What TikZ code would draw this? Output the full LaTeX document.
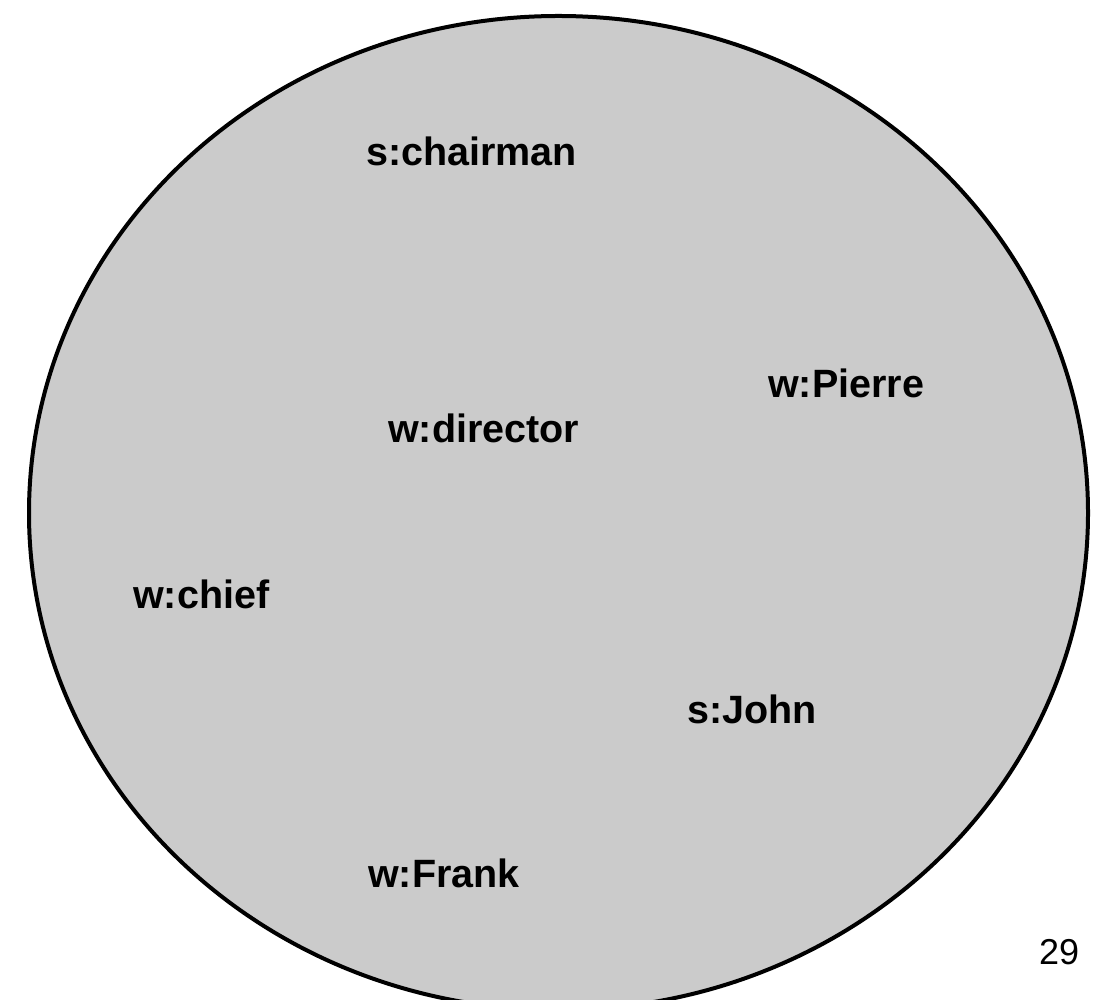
\documentclass[tikz,border=0pt]{standalone}
\usepackage{fontspec}
\setmainfont{Liberation Sans}
\definecolor{discgray}{HTML}{CBCBCB}
\begin{document}
\begin{tikzpicture}[x=1pt,y=1pt,
  lbl/.style={anchor=base west,inner sep=0pt,font=\fontsize{39.5}{47}\selectfont\bfseries},
  pagenum/.style={anchor=base west,inner sep=0pt,font=\fontsize{36}{43}\selectfont}]
\useasboundingbox (0,0) rectangle (1105,999);
\draw[line width=4pt,fill=discgray] (558.5,486) ellipse [x radius=529.5, y radius=497];
\node[lbl] (chairman) at (366,833) {s:chairman};
\node[lbl] (pierre) at (768,601) {w:Pierre};
\node[lbl] (director) at (388,556) {w:director};
\node[lbl] (chief) at (133,390) {w:chief};
\node[lbl] (john) at (687,276) {s:John};
\node[lbl] (frank) at (368,112) {w:Frank};
\node[pagenum] (num) at (1039,35) {29};
\end{tikzpicture}
\end{document}
